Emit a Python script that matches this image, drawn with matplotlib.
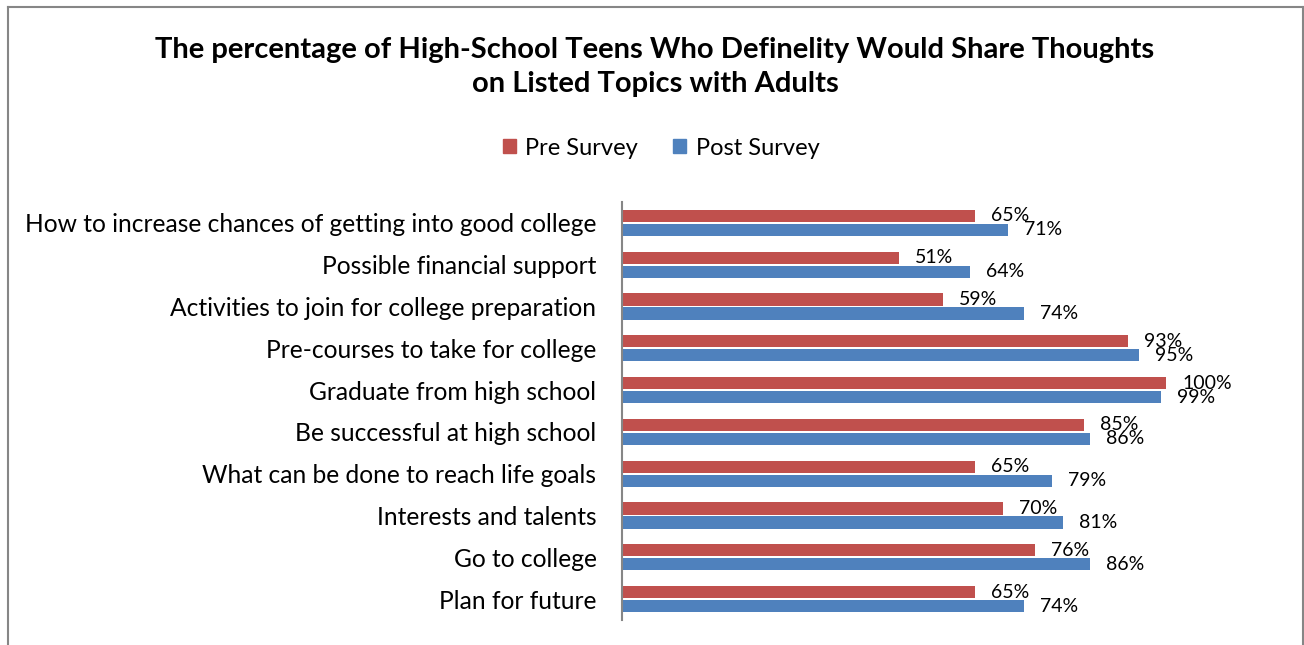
import matplotlib
matplotlib.use("Agg")
import matplotlib.pyplot as plt
from matplotlib.lines import Line2D
from matplotlib.patches import Patch

plt.rcParams['font.family'] = ['Lato', 'DejaVu Sans']

categories = [
    "How to increase chances of getting into good college",
    "Possible financial support",
    "Activities to join for college preparation",
    "Pre-courses to take for college",
    "Graduate from high school",
    "Be successful at high school",
    "What can be done to reach life goals",
    "Interests and talents",
    "Go to college",
    "Plan for future",
]
pre_survey = [65, 51, 59, 93, 100, 85, 65, 70, 76, 65]
post_survey = [71, 64, 74, 95, 99, 86, 79, 81, 86, 74]
series_names = ["Pre Survey", "Post Survey"]
title = ("The percentage of High-School Teens Who Definelity Would Share Thoughts\n"
         "on Listed Topics with Adults")

RED = "#C0504D"
BLUE = "#4F81BD"
W, H = 1304, 645
fig = plt.figure(figsize=(W / 100, H / 100), dpi=100)

ax = fig.add_axes([621.5 / W, 1 - 620 / H, (1166 - 621.5) / W, (620 - 202) / H])
pos = list(range(len(categories)))
bh = 0.29
off = 0.167
ax.barh([p - off for p in pos], pre_survey, height=bh, color=RED)
ax.barh([p + off for p in pos], post_survey, height=bh, color=BLUE)
ax.set_xlim(0, 100)
ax.set_ylim(len(categories) - 0.5, -0.5)
ax.set_yticks(pos)
ax.set_yticklabels(categories, fontsize=17.7)
ax.tick_params(axis='y', length=0, pad=18)
ax.set_xticks([])
for s in ['top', 'right', 'bottom']:
    ax.spines[s].set_visible(False)
ax.spines['left'].set_color('#868686')
ax.spines['left'].set_linewidth(1.5)

for p, v in zip(pos, pre_survey):
    ax.annotate(f"{v}%", (v, p - off), xytext=(11.5, 0), textcoords='offset points',
                va='center', ha='left', fontsize=14, annotation_clip=False)
for p, v in zip(pos, post_survey):
    ax.annotate(f"{v}%", (v, p + off), xytext=(11.5, 0), textcoords='offset points',
                va='center', ha='left', fontsize=14, annotation_clip=False)

fig.text(655 / W, 1 - 67 / H, title, ha='center', va='center', fontsize=21,
         fontweight='bold', linespacing=1.42)

handles = [Patch(color=RED), Patch(color=BLUE)]
fig.legend(handles, series_names, loc='center', bbox_to_anchor=(661 / W, 1 - 148 / H),
           ncol=2, frameon=False, fontsize=17, handlelength=0.55, handleheight=0.55,
           handletextpad=0.4, columnspacing=1.5)

# outer chart border
bc = '#868686'
fig.add_artist(Line2D([7.5 / W, 7.5 / W], [0, 1 - 6.5 / H], color=bc, lw=1.5))
fig.add_artist(Line2D([7.5 / W, 1302.5 / W], [1 - 6.5 / H, 1 - 6.5 / H], color=bc, lw=1.5))
fig.add_artist(Line2D([1302.5 / W, 1302.5 / W], [0, 1 - 6.5 / H], color=bc, lw=1.5))

fig.savefig("out.png", dpi=100)
